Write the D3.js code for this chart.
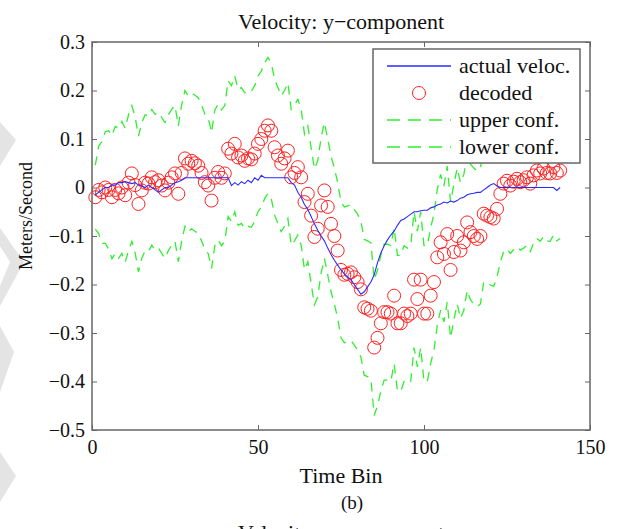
<!DOCTYPE html>
<html>
<head>
<meta charset="utf-8">
<script src="https://cdn.jsdelivr.net/npm/d3@7"></script>
<style>
  body { margin: 0; background: #fff; overflow: hidden; }
  text { font-family: 'Liberation Serif', 'Times New Roman', serif; fill: #111; }
</style>
</head>
<body>
<div id="chart"></div>
<script>
'use strict'

// Time bins 1..141
const timeBins = d3.range(1, 142)

const actualVeloc = [
  -0.015, -0.01, -0.005, 0, 0, 0.005, 0.005, 0.01, 0.01, 0.012,
  0.01, 0.008, 0.01, 0.005, 0.003, 0, 0.005, 0, -0.005, -0.01,
  -0.005, 0, 0, 0.005, 0.01, 0.012, 0.015, 0.02, 0.02, 0.02,
  0.02, 0.02, 0.02, 0.02, 0.02, 0.02, 0.02, 0.02, 0.02, 0.02,
  0.02, 0.004, 0.01, 0.005, 0.012, 0.008, 0.015, 0.01, 0.02, 0.015,
  0.025, 0.02, 0.02, 0.02, 0.02, 0.02, 0.02, 0.02, 0.02, 0.01,
  0.005, -0.01, -0.02, -0.035, -0.045, -0.06, -0.075, -0.088, -0.1, -0.11,
  -0.125, -0.138, -0.15, -0.16, -0.17, -0.178, -0.185, -0.19, -0.2, -0.21,
  -0.22, -0.215, -0.205, -0.195, -0.18, -0.155, -0.135, -0.12, -0.108, -0.098,
  -0.09, -0.078, -0.068, -0.065, -0.06, -0.055, -0.05, -0.05, -0.048, -0.047,
  -0.047, -0.042, -0.04, -0.036, -0.034, -0.03, -0.032, -0.028, -0.03, -0.027,
  -0.022, -0.02, -0.015, -0.013, -0.012, -0.01, -0.01, -0.005, 0, 0.005,
  0.008, 0.003, 0, 0, 0, 0, 0, 0, 0, 0,
  0, 0, 0, 0, 0, 0, 0, 0, 0, -0.006,
  0
]

const decoded = [
  -0.02, -0.005, -0.01, 0, -0.005, -0.02, -0.005, -0.012, 0, -0.016,
  0.01, 0.029, 0.005, -0.034, -0.006, 0.01, 0.008, 0.021, 0.011, 0.015,
  0.004, -0.006, 0.01, 0.021, 0.029, -0.013, 0.03, 0.06, 0.049, 0.055,
  0.05, 0.045, 0.03, 0.011, 0.004, -0.027, 0.02, 0.032, 0.02, 0.029,
  0.08, 0.07, 0.09, 0.062, 0.066, 0.055, 0.06, 0.058, 0.07, 0.09,
  0.1, 0.117, 0.128, 0.117, 0.083, 0.066, 0.049, 0.06, 0.076, 0.021,
  0.03, 0.042, 0.021, -0.03, -0.013, -0.058, -0.102, -0.085, -0.037, -0.006,
  -0.04, -0.075, -0.1, -0.13, -0.17, -0.18, -0.178, -0.175, -0.185, -0.195,
  -0.21, -0.247, -0.25, -0.254, -0.33, -0.31, -0.28, -0.257, -0.257, -0.26,
  -0.223, -0.28, -0.28, -0.26, -0.265, -0.26, -0.19, -0.23, -0.19, -0.26,
  -0.26, -0.223, -0.195, -0.144, -0.113, -0.137, -0.096, -0.17, -0.133, -0.1,
  -0.13, -0.113, -0.072, -0.092, -0.1, -0.106, -0.1, -0.054, -0.058, -0.061,
  -0.064, -0.044, -0.013, 0.008, 0.014, 0.004, 0.012, 0.018, 0.011, 0.015,
  0.021, 0.008, 0.025, 0.035, 0.029, 0.039, 0.03, 0.029, 0.042, 0.03,
  0.035
]

const upperConf = [
  0.046, 0.085, 0.095, 0.115, 0.117, 0.107, 0.126, 0.122, 0.136, 0.122,
  0.15, 0.169, 0.145, 0.106, 0.134, 0.15, 0.148, 0.161, 0.151, 0.155,
  0.144, 0.134, 0.15, 0.161, 0.169, 0.127, 0.17, 0.2, 0.189, 0.195,
  0.19, 0.185, 0.17, 0.151, 0.144, 0.113, 0.16, 0.172, 0.16, 0.169,
  0.22, 0.21, 0.23, 0.202, 0.206, 0.195, 0.2, 0.198, 0.21, 0.23,
  0.24, 0.257, 0.268, 0.257, 0.223, 0.206, 0.189, 0.2, 0.216, 0.161,
  0.17, 0.182, 0.161, 0.11, 0.127, 0.082, 0.038, 0.055, 0.103, 0.134,
  0.1, 0.065, 0.04, 0.01, -0.03, -0.04, -0.038, -0.035, -0.045, -0.055,
  -0.07, -0.107, -0.11, -0.114, -0.19, -0.17, -0.14, -0.117, -0.117, -0.12,
  -0.083, -0.14, -0.14, -0.12, -0.125, -0.12, -0.05, -0.09, -0.05, -0.12,
  -0.12, -0.083, -0.055, -0.004, 0.027, 0.003, 0.044, -0.03, 0.007, 0.04,
  0.01, 0.027, 0.068, 0.048, 0.04, 0.034, 0.04, 0.086, 0.082, 0.079,
  0.076, 0.096, 0.127, 0.148, 0.154, 0.144, 0.152, 0.158, 0.151, 0.155,
  0.161, 0.148, 0.165, 0.175, 0.169, 0.179, 0.17, 0.169, 0.182, 0.17,
  0.175
]

const lowerConf = [
  -0.086, -0.095, -0.115, -0.115, -0.127, -0.147, -0.136, -0.146, -0.136, -0.154,
  -0.13, -0.111, -0.135, -0.174, -0.146, -0.13, -0.132, -0.119, -0.129, -0.125,
  -0.136, -0.146, -0.13, -0.119, -0.111, -0.153, -0.11, -0.08, -0.091, -0.085,
  -0.09, -0.095, -0.11, -0.129, -0.136, -0.167, -0.12, -0.108, -0.12, -0.111,
  -0.06, -0.07, -0.05, -0.078, -0.074, -0.085, -0.08, -0.082, -0.07, -0.05,
  -0.04, -0.023, -0.012, -0.023, -0.057, -0.074, -0.091, -0.08, -0.064, -0.119,
  -0.11, -0.098, -0.119, -0.17, -0.153, -0.198, -0.242, -0.225, -0.177, -0.146,
  -0.18, -0.215, -0.24, -0.27, -0.31, -0.32, -0.318, -0.315, -0.325, -0.335,
  -0.35, -0.387, -0.39, -0.394, -0.47, -0.45, -0.42, -0.397, -0.397, -0.4,
  -0.363, -0.42, -0.42, -0.4, -0.405, -0.4, -0.33, -0.37, -0.33, -0.4,
  -0.4, -0.363, -0.335, -0.284, -0.253, -0.277, -0.236, -0.31, -0.273, -0.24,
  -0.27, -0.253, -0.212, -0.232, -0.24, -0.246, -0.24, -0.194, -0.198, -0.201,
  -0.204, -0.184, -0.153, -0.132, -0.126, -0.136, -0.128, -0.122, -0.129, -0.125,
  -0.119, -0.132, -0.115, -0.105, -0.111, -0.101, -0.11, -0.111, -0.098, -0.11,
  -0.105
]

const xTicks = [0, 50, 100, 150]
const yTicks = [-0.5, -0.4, -0.3, -0.2, -0.1, 0, 0.1, 0.2, 0.3]
const legendLabels = ['actual veloc.', 'decoded', 'upper conf.', 'lower conf.']

const blue = '#2a2aff'
const red = '#ff2020'
const green = '#2ef02e'

let dimensions = {
  width: 622,
  height: 529,
  margin: { top: 42, right: 32, bottom: 99, left: 92 },
}
dimensions.containerWidth =
  dimensions.width - dimensions.margin.left - dimensions.margin.right
dimensions.containerHeight =
  dimensions.height - dimensions.margin.top - dimensions.margin.bottom

const svg = d3
  .select('#chart')
  .append('svg')
  .attr('width', dimensions.width)
  .attr('height', dimensions.height)

// light grey shapes along the left edge of the scan
const greyShapes = [
  [[0, 122], [16, 140], [0, 166]],
  [[0, 228], [24, 262], [0, 306], [0, 286], [10, 262], [0, 246]],
  [[0, 326], [14, 352], [0, 392]],
  [[0, 452], [16, 476], [0, 502]],
]
svg
  .selectAll('polygon.bg')
  .data(greyShapes)
  .join('polygon')
  .attr('class', 'bg')
  .attr('points', (d) => d.map((p) => p.join(',')).join(' '))
  .attr('fill', '#e4e4e4')

const container = svg
  .append('g')
  .attr('transform', `translate(${dimensions.margin.left}, ${dimensions.margin.top})`)

const xScale = d3
  .scaleLinear()
  .domain([0, 150])
  .range([0, dimensions.containerWidth])

const yScale = d3
  .scaleLinear()
  .domain([-0.5, 0.3])
  .range([dimensions.containerHeight, 0])

// Lines
const lineOf = (values) =>
  d3
    .line()
    .x((d, i) => xScale(timeBins[i]))
    .y((d) => yScale(d))(values)

container
  .append('path')
  .attr('d', lineOf(upperConf))
  .attr('fill', 'none')
  .attr('stroke', green)
  .attr('stroke-width', 1.3)
  .attr('stroke-dasharray', '9,7')

container
  .append('path')
  .attr('d', lineOf(lowerConf))
  .attr('fill', 'none')
  .attr('stroke', green)
  .attr('stroke-width', 1.3)
  .attr('stroke-dasharray', '9,7')

container
  .selectAll('circle')
  .data(decoded)
  .join('circle')
  .attr('cx', (d, i) => xScale(timeBins[i]))
  .attr('cy', (d) => yScale(d))
  .attr('r', 6.5)
  .attr('fill', 'none')
  .attr('stroke', red)
  .attr('stroke-width', 1)

container
  .append('path')
  .attr('d', lineOf(actualVeloc))
  .attr('fill', 'none')
  .attr('stroke', blue)
  .attr('stroke-width', 1.1)

// Axes (ticks point inward, box around the plot)
const axisColor = '#666'
const xAxis = d3.axisBottom(xScale).tickValues(xTicks).tickSizeInner(-5).tickSizeOuter(0).tickPadding(10)
const xAxisTop = d3.axisTop(xScale).tickValues(xTicks).tickSizeInner(-5).tickSizeOuter(0).tickFormat('')
const yAxis = d3
  .axisLeft(yScale)
  .tickValues(yTicks)
  .tickSizeInner(-5)
  .tickSizeOuter(0)
  .tickPadding(7)
  .tickFormat((d) => d3.format('.1f')(d).replace('-', '\u2212').replace('0.0', '0'))
const yAxisRight = d3.axisRight(yScale).tickValues(yTicks).tickSizeInner(-5).tickSizeOuter(0).tickFormat('')

const xAxisGroup = container
  .append('g')
  .attr('transform', `translate(0, ${dimensions.containerHeight})`)
  .call(xAxis)
container.append('g').call(xAxisTop)
container.append('g').call(yAxis)
container
  .append('g')
  .attr('transform', `translate(${dimensions.containerWidth}, 0)`)
  .call(yAxisRight)

container.selectAll('.domain').remove()
container.selectAll('.tick line').attr('stroke', axisColor).attr('stroke-width', 1)
container
  .selectAll('.tick text')
  .style('font-family', "'Liberation Serif', serif")
  .style('font-size', '20px')
  .attr('fill', '#111')
xAxisGroup.selectAll('.tick text').attr('dy', '0.7em')

container
  .append('rect')
  .attr('width', dimensions.containerWidth)
  .attr('height', dimensions.containerHeight)
  .attr('fill', 'none')
  .attr('stroke', axisColor)
  .attr('stroke-width', 1.5)

// Legend
const legend = svg.append('g').attr('transform', 'translate(373, 49)')
legend
  .append('rect')
  .attr('width', 207)
  .attr('height', 114)
  .attr('fill', '#fff')
  .attr('stroke', axisColor)
  .attr('stroke-width', 1.5)

const rows = legend
  .selectAll('g.row')
  .data(legendLabels)
  .join('g')
  .attr('class', 'row')
  .attr('transform', (d, i) => `translate(0, ${17 + i * 27})`)

rows
  .append('text')
  .attr('x', 86)
  .attr('y', 0)
  .attr('dy', '0.33em')
  .style('font-size', '22px')
  .text((d) => d)

rows
  .filter((d, i) => i === 0)
  .append('line')
  .attr('x1', 14).attr('x2', 78)
  .attr('stroke', blue)
  .attr('stroke-width', 1.3)

rows
  .filter((d, i) => i === 1)
  .append('circle')
  .attr('cx', 46)
  .attr('r', 6.5)
  .attr('fill', 'none')
  .attr('stroke', red)

rows
  .filter((d, i) => i >= 2)
  .append('line')
  .attr('x1', 14).attr('x2', 78)
  .attr('stroke', green)
  .attr('stroke-width', 1.3)
  .attr('stroke-dasharray', '13,8')

// Titles
svg
  .append('text')
  .attr('x', 341)
  .attr('y', 29)
  .attr('text-anchor', 'middle')
  .style('font-size', '22px')
  .text('Velocity: y\u2212component')

svg
  .append('text')
  .attr('x', 341)
  .attr('y', 483)
  .attr('text-anchor', 'middle')
  .style('font-size', '22px')
  .text('Time Bin')

svg
  .append('text')
  .attr('x', 352)
  .attr('y', 509)
  .attr('text-anchor', 'middle')
  .style('font-size', '19px')
  .text('(b)')

svg
  .append('text')
  .attr('transform', 'translate(32, 216) rotate(-90)')
  .attr('text-anchor', 'middle')
  .style('font-size', '18px')
  .text('Meters/Second')

// next panel's title, cut off by the bottom edge as in the source
svg
  .append('text')
  .attr('x', 238)
  .attr('y', 540)
  .style('font-size', '22px')
  .text('Velocity: x\u2212component')
</script>
</body>
</html>
